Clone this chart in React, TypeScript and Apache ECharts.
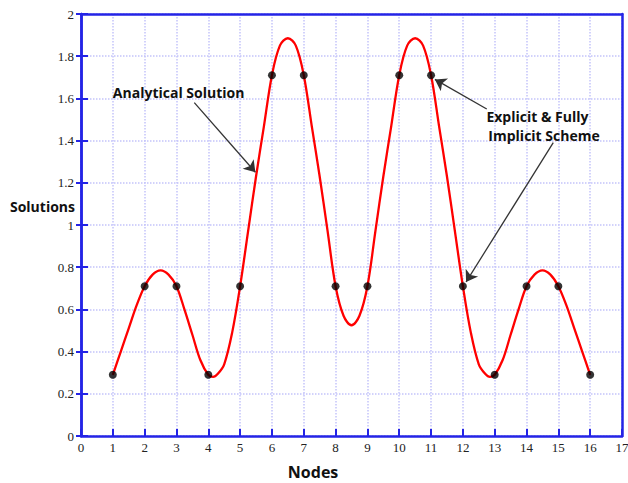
import React, { useEffect, useRef } from "react";
import * as echarts from "echarts";

const nodes = [1, 2, 3, 4, 5, 6, 7, 8, 9, 10, 11, 12, 13, 14, 15, 16];
const numericValues = [0.29, 0.71, 0.71, 0.29, 0.71, 1.71, 1.71, 0.71, 0.71, 1.71, 1.71, 0.71, 0.29, 0.71, 0.71, 0.29];

const curveX = [
  1, 1.25, 1.5, 1.75, 2, 2.25, 2.5, 2.75, 3, 3.25, 3.5, 3.75, 4, 4.15, 4.3, 4.5, 4.75,
  5, 5.25, 5.5, 5.75, 6, 6.25, 6.5, 6.75, 7, 7.25, 7.5, 7.75, 8, 8.25, 8.5, 8.75,
  9, 9.25, 9.5, 9.75, 10, 10.25, 10.5, 10.75, 11, 11.25, 11.5, 11.75, 12, 12.25,
  12.5, 12.7, 12.85, 13, 13.25, 13.5, 13.75, 14, 14.25, 14.5, 14.75, 15, 15.25, 15.5, 15.75, 16,
];
const curveY = [
  0.29, 0.4, 0.51, 0.62, 0.71, 0.765, 0.785, 0.765, 0.71, 0.6, 0.48, 0.36, 0.29, 0.28, 0.295, 0.34, 0.49,
  0.71, 0.97, 1.23, 1.47, 1.71, 1.85, 1.885, 1.85, 1.71, 1.47, 1.23, 0.97, 0.71, 0.57, 0.525, 0.57,
  0.71, 0.97, 1.23, 1.47, 1.71, 1.85, 1.885, 1.85, 1.71, 1.47, 1.23, 0.97, 0.71, 0.49,
  0.34, 0.295, 0.28, 0.29, 0.36, 0.48, 0.6, 0.71, 0.765, 0.785, 0.765, 0.71, 0.62, 0.51, 0.4, 0.29,
];

const xTicks = { min: 0, max: 17, interval: 1 };
const yTicks = { min: 0, max: 2, interval: 0.2 };

const arrows = [
  { from: [3.56, 1.58], to: [5.48, 1.25] },
  { from: [12.75, 1.55], to: [11.12, 1.69] },
  { from: [14.84, 1.39], to: [12.1, 0.73] },
];
const notes = [
  { text: "Analytical Solution", at: [1.0, 1.628] },
  { text: "Explicit & Fully", at: [12.74, 1.515] },
  { text: "Implicit Scheme", at: [12.8, 1.425] },
];
const yTitle = { text: "Solutions", at: [0, 1.09] };
const xTitle = { text: "Nodes", at: [6.5, -0.17] };

const BLUE = "#2424e6";
const GRIDC = "#c4c4fa";
const labelFont = { fontFamily: "Liberation Serif", fontSize: 13, color: "#222" };
const titleFont = { fontFamily: "Open Sans", fontWeight: "bold", color: "#111" };

export default function App() {
  const ref = useRef<HTMLDivElement>(null);
  useEffect(() => {
    document.body.style.margin = "0";
    if (!ref.current) return;
    const chart = echarts.init(ref.current, undefined, { renderer: "svg" });
    const frameLine = { show: true, onZero: false, lineStyle: { color: BLUE, width: 2.5 } };
    chart.setOption({
      animation: false,
      backgroundColor: "#fff",
      grid: {
        left: 81,
        right: 6,
        top: 14,
        bottom: 47,
        containLabel: false,
        outerBoundsMode: "none",
      },
      xAxis: [
        {
          type: "value",
          min: xTicks.min,
          max: xTicks.max,
          interval: xTicks.interval,
          axisLine: frameLine,
          axisTick: { show: true, inside: true, length: 7, lineStyle: { color: BLUE, width: 2 } },
          axisLabel: { ...labelFont, margin: 5 },
          splitLine: { show: true, lineStyle: { color: GRIDC, type: "dotted", width: 1.5 } },
        },
        {
          type: "value",
          position: "top",
          min: xTicks.min,
          max: xTicks.max,
          interval: xTicks.interval,
          axisLine: frameLine,
          axisTick: { show: false },
          axisLabel: { show: false },
          splitLine: { show: false },
        },
      ],
      yAxis: [
        {
          type: "value",
          min: yTicks.min,
          max: yTicks.max,
          interval: yTicks.interval,
          axisLine: frameLine,
          axisTick: { show: true, inside: true, length: 7, lineStyle: { color: BLUE, width: 2 } },
          axisLabel: { ...labelFont, margin: 7 },
          splitLine: { show: true, lineStyle: { color: GRIDC, type: "dotted", width: 1.5 } },
        },
        {
          type: "value",
          position: "left",
          min: yTicks.min,
          max: yTicks.max,
          interval: yTicks.interval,
          axisLine: frameLine,
          axisTick: { show: true, inside: false, length: 5, lineStyle: { color: BLUE, width: 2 } },
          axisLabel: { show: false },
          splitLine: { show: false },
        },
        {
          type: "value",
          position: "right",
          min: yTicks.min,
          max: yTicks.max,
          interval: yTicks.interval,
          axisLine: frameLine,
          axisTick: { show: false },
          axisLabel: { show: false },
          splitLine: { show: false },
        },
      ],
      series: [
        {
          type: "line",
          data: curveX.map((x, i) => [x, curveY[i]]),
          smooth: 0.35,
          showSymbol: false,
          lineStyle: { color: "#ff0000", width: 2.3 },
          z: 3,
        },
        {
          type: "scatter",
          data: nodes.map((x, i) => [x, numericValues[i]]),
          symbol: "circle",
          symbolSize: 8,
          itemStyle: { color: "#000" },
          z: 4,
        },
        {
          type: "lines",
          coordinateSystem: "cartesian2d",
          symbol: ["none", "arrow"],
          symbolSize: [1, 11],
          lineStyle: { color: "#333", width: 1.3, opacity: 1 },
          data: arrows.map((a) => ({ coords: [a.from, a.to] })),
          z: 5,
        },
      ],
    });
    const graphics: any[] = notes.map((n) => {
      const p = chart.convertToPixel({ gridIndex: 0 }, n.at) as number[];
      return {
        type: "text",
        x: p[0],
        y: p[1],
        style: {
          text: n.text,
          ...titleFont,
          fontSize: 14,
          fill: "#111",
          verticalAlign: "middle",
        },
        z: 10,
      };
    });
    const yp = chart.convertToPixel({ gridIndex: 0 }, yTitle.at) as number[];
    graphics.push({
      type: "text",
      x: yp[0] - 6,
      y: yp[1],
      style: {
        text: yTitle.text,
        ...titleFont,
        fontSize: 14,
        fill: "#111",
        align: "right",
        verticalAlign: "middle",
      },
      z: 10,
    });
    const xp = chart.convertToPixel({ gridIndex: 0 }, xTitle.at) as number[];
    graphics.push({
      type: "text",
      x: xp[0],
      y: xp[1],
      style: {
        text: xTitle.text,
        ...titleFont,
        fontSize: 16,
        fill: "#111",
        verticalAlign: "middle",
      },
      z: 10,
    });
    chart.setOption({ graphic: graphics });
    return () => chart.dispose();
  }, []);
  return <div ref={ref} style={{ width: 628, height: 483 }} />;
}
